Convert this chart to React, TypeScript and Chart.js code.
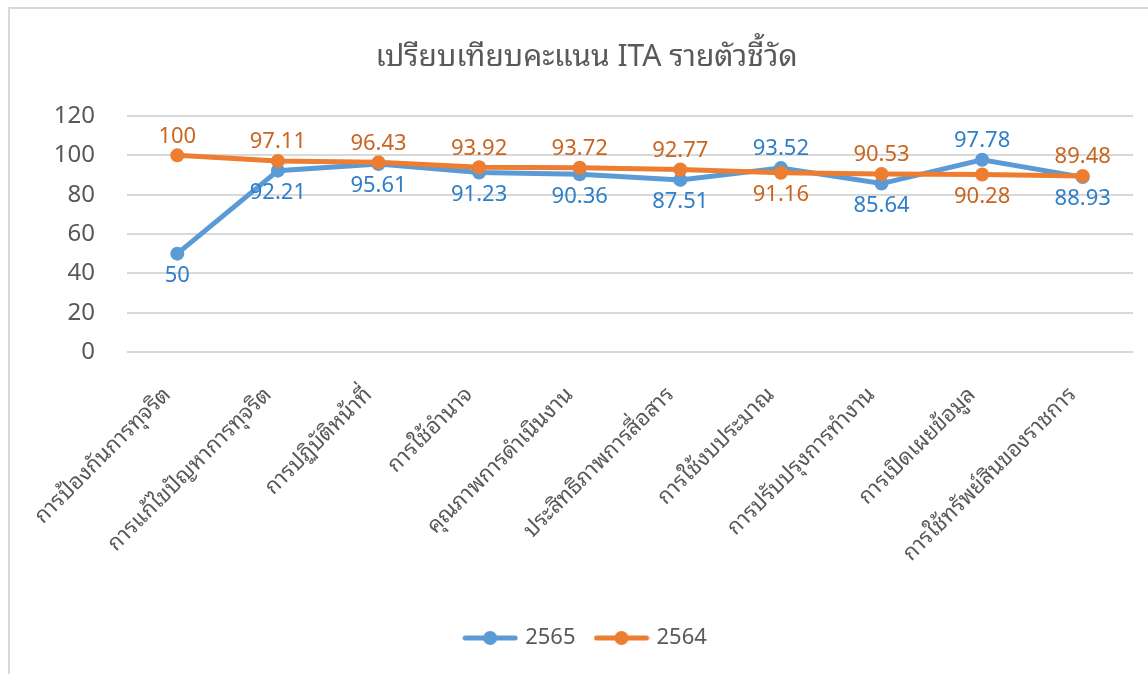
import React, { useEffect, useRef } from "react";
import { Chart, registerables } from "chart.js";

Chart.register(...registerables);

const FONT = '"Noto Sans", "Noto Sans Thai Looped", "Noto Sans Thai UI", "Noto Sans Thai", Tahoma, sans-serif';

const chartTitle = "เปรียบเทียบคะแนน ITA รายตัวชี้วัด";
const categories = [
  "การป้องกันการทุจริต",
  "การแก้ไขปัญหาการทุจริต",
  "การปฏิบัติหน้าที่",
  "การใช้อำนาจ",
  "คุณภาพการดำเนินงาน",
  "ประสิทธิภาพการสื่อสาร",
  "การใช้งบประมาณ",
  "การปรับปรุงการทำงาน",
  "การเปิดเผยข้อมูล",
  "การใช้ทรัพย์สินของราชการ",
];
const seriesNames = ["2565", "2564"];
const values2565 = [50, 92.21, 95.61, 91.23, 90.36, 87.51, 93.52, 85.64, 97.78, 88.93];
const values2564 = [100, 97.11, 96.43, 93.92, 93.72, 92.77, 91.16, 90.53, 90.28, 89.48];
const yMin = 0;
const yMax = 120;
const yStep = 20;

const lineColors = ["#5B9BD5", "#ED7D31"];
const labelColors = ["#2E7FC8", "#C9651F"];
const textColor = "#595959";
const gridColor = "#D9D9D9";

function makeLegendImage(color: string): HTMLCanvasElement {
  const c = document.createElement("canvas");
  c.width = 56;
  c.height = 16;
  const g = c.getContext("2d")!;
  g.strokeStyle = color;
  g.lineWidth = 5;
  g.lineCap = "round";
  g.beginPath();
  g.moveTo(3, 8);
  g.lineTo(53, 8);
  g.stroke();
  g.fillStyle = color;
  g.beginPath();
  g.arc(28, 8, 7, 0, Math.PI * 2);
  g.fill();
  return c;
}

const valueLabelPlugin = {
  id: "valueLabels",
  afterDatasetsDraw(chart: any) {
    const ctx = chart.ctx;
    const sets = chart.data.datasets;
    sets.forEach((ds: any, i: number) => {
      const meta = chart.getDatasetMeta(i);
      const other = sets[1 - i].data;
      ctx.save();
      ctx.font = `22px ${FONT}`;
      ctx.fillStyle = labelColors[i];
      ctx.textAlign = "center";
      ctx.textBaseline = "middle";
      meta.data.forEach((pt: any, j: number) => {
        const v = ds.data[j];
        const above = v >= other[j];
        ctx.fillText(String(v), pt.x, pt.y + (above ? -19 : 22));
      });
      ctx.restore();
    });
  },
};

export default function App() {
  const ref = useRef<HTMLCanvasElement | null>(null);

  useEffect(() => {
    if (!ref.current) return;
    const legendImages = lineColors.map(makeLegendImage);
    const chart = new Chart(ref.current, {
      type: "line",
      data: {
        labels: categories,
        datasets: [
          {
            label: seriesNames[0],
            data: values2565,
            borderColor: lineColors[0],
            backgroundColor: lineColors[0],
            borderWidth: 5,
            pointRadius: 7,
            pointBorderWidth: 0,
            pointBackgroundColor: lineColors[0],
            order: 1,
          },
          {
            label: seriesNames[1],
            data: values2564,
            borderColor: lineColors[1],
            backgroundColor: lineColors[1],
            borderWidth: 5,
            pointRadius: 7,
            pointBorderWidth: 0,
            pointBackgroundColor: lineColors[1],
            order: 0,
          },
        ],
      },
      options: {
        animation: false,
        responsive: true,
        maintainAspectRatio: false,
        layout: { padding: { left: 40, right: 15, top: 0, bottom: 15 } },
        plugins: {
          tooltip: { enabled: false },
          title: {
            display: true,
            text: chartTitle,
            color: textColor,
            font: { family: FONT, size: 30, weight: "normal" },
            padding: { top: 39, bottom: 41 },
          },
          legend: {
            position: "bottom",
            labels: {
              color: textColor,
              font: { family: FONT, size: 22 },
              usePointStyle: true,
              pointStyleWidth: 48,
              boxHeight: 16,
              padding: 22,
              generateLabels: (c: any) => {
                const items = Chart.defaults.plugins.legend.labels.generateLabels(c);
                items.sort((a: any, b: any) => a.datasetIndex - b.datasetIndex);
                items.forEach((it: any) => {
                  it.pointStyle = legendImages[it.datasetIndex];
                  it.fontColor = textColor;
                });
                return items;
              },
            },
          },
        },
        scales: {
          x: {
            offset: true,
            grid: { display: false, drawTicks: false },
            border: { display: false },
            ticks: {
              color: textColor,
              font: { family: FONT, size: 22 },
              minRotation: 45,
              maxRotation: 45,
              padding: 30,
              labelOffset: -10,
              autoSkip: false,
            },
            afterFit: (s: any) => {
              s.height = 253;
            },
          },
          y: {
            min: yMin,
            max: yMax,
            ticks: {
              stepSize: yStep,
              color: textColor,
              font: { family: FONT, size: 24 },
              padding: 32,
            },
            grid: { color: gridColor, lineWidth: 2, drawTicks: false },
            border: { display: false },
            afterFit: (s: any) => {
              s.width = 87;
            },
          },
        },
      },
      plugins: [valueLabelPlugin],
    });
    return () => chart.destroy();
  }, []);

  return (
    <div
      style={{
        position: "fixed",
        left: 0,
        top: 0,
        width: 1148,
        height: 674,
        background: "#fff",
      }}
    >
      <div
        style={{
          position: "absolute",
          left: 8,
          top: 7,
          width: 1200,
          height: 720,
          borderTop: "2px solid #D9D9D9",
          borderLeft: "2px solid #D9D9D9",
          boxSizing: "border-box",
        }}
      />
      <div style={{ position: "absolute", left: 0, top: 0, width: 1148, height: 674 }}>
        <canvas ref={ref} />
      </div>
    </div>
  );
}
